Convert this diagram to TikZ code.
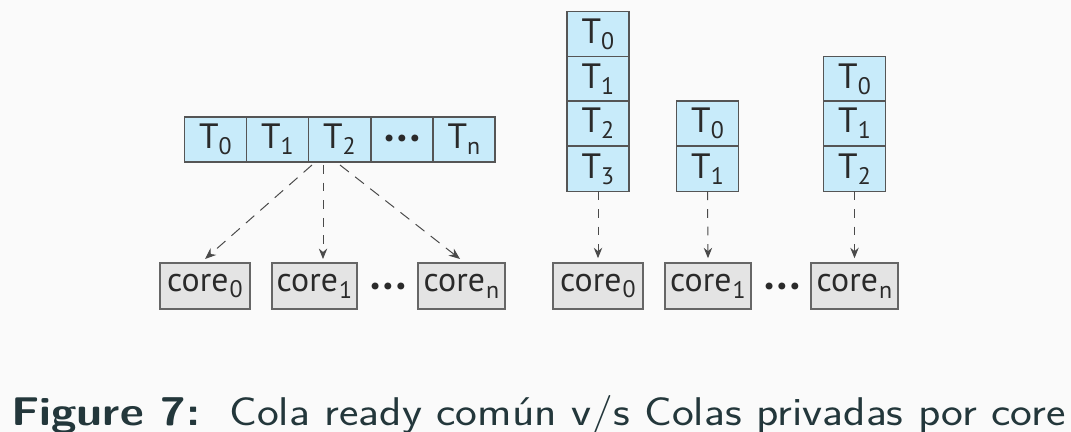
\documentclass[tikz,border=0pt]{standalone}
\usepackage{fontspec}
\usepackage{graphicx}
\newfontfamily\cellfont{PT Sans}
\usetikzlibrary{arrows.meta}
\definecolor{bgc}{HTML}{FAFAFA}
\definecolor{cellfill}{HTML}{C8EBFA}
\definecolor{cellline}{HTML}{555555}
\definecolor{corefill}{HTML}{E4E4E4}
\definecolor{coreline}{HTML}{666666}
\definecolor{capc}{HTML}{23373B}
\definecolor{txt}{HTML}{2A2A2A}
\newcommand{\Tsub}[1]{T\kern0em\raisebox{-0.35ex}{\fontsize{17}{17}\selectfont #1}}
\newcommand{\coresub}[1]{core\kern0.04em\raisebox{-0.4ex}{\fontsize{17}{17}\selectfont #1}}
\tikzset{
  cell/.style={draw=cellline, fill=cellfill, line width=0.9pt, inner sep=0pt, outer sep=0pt,
    minimum width=1.55cm, minimum height=1.12cm, font=\cellfont\fontsize{25}{25}\selectfont, text=txt},
  corebox/.style={draw=coreline, fill=corefill, line width=0.9pt, inner sep=0pt, outer sep=0pt,
    minimum width=2.2cm, minimum height=1.15cm, font=\cellfont\fontsize{24}{24}\selectfont, text=txt},
  dots/.style={inner sep=0pt, font=\cellfont\bfseries\fontsize{16}{16}\selectfont, text=txt},
  arr/.style={draw=txt!85, line width=0.7pt, dash pattern=on 2.8mm off 2mm,
    -{Stealth[length=2.8mm,width=2.2mm]}},
  arrv/.style={draw=txt!85, line width=0.7pt, dash pattern=on 2.2mm off 2.2mm,
    -{Stealth[length=2.6mm,width=2.1mm]}}
}
\begin{document}
\begin{tikzpicture}[x=0.025cm, y=-0.025cm]
\fill[bgc] (0,0) rectangle (1071,432);
\useasboundingbox (0,0) rectangle (1071,432);
% left shared queue
\node[cell] (L0) at (215.5,139.5) {\Tsub{0}};
\node[cell] (L1) at (277.5,139.5) {\Tsub{1}};
\node[cell] (L2) at (339.5,139.5) {\Tsub{2}};
\node[cell] (L3) at (402,139.5) {};
\node[dots] (L3d) at (402,140) {•\kern0.12em•\kern0.12em•};
\node[cell] (L4) at (464,139.5) {\Tsub{n}};
% left cores
\node[corebox, minimum width=2.25cm] (C0) at (205,286) {\coresub{0}};
\node[corebox, minimum width=2.12cm] (C1) at (314.5,286) {\coresub{1}};
\node[corebox, minimum width=2.18cm] (Cn) at (461.5,286) {\coresub{n}};
\node[dots] (Cd) at (388,288) {•\kern0.12em•\kern0.12em•};
\coordinate (sL) at (312,165);
\coordinate (sM) at (323,165);
\coordinate (sR) at (340,165);
\coordinate (eL) at (205,259);
\coordinate (eM) at (323,259);
\coordinate (eR) at (460,259);
\draw[arr] (sL) -- (eL);
\draw[arrv] (sM) -- (eM);
\draw[arr] (sR) -- (eR);
% right private queues
\node[cell] (A0) at (598,34) {\Tsub{0}};
\node[cell] (A1) at (598,79) {\Tsub{1}};
\node[cell] (A2) at (598,123.5) {\Tsub{2}};
\node[cell] (A3) at (598,169) {\Tsub{3}};
\node[cell] (B0) at (707.5,123.5) {\Tsub{0}};
\node[cell] (B1) at (707.5,169) {\Tsub{1}};
\node[cell] (D0) at (854.5,79) {\Tsub{0}};
\node[cell] (D1) at (854.5,123.5) {\Tsub{1}};
\node[cell] (D2) at (854.5,169) {\Tsub{2}};
\node[corebox, minimum width=2.25cm] (R0) at (598,286) {\coresub{0}};
\node[corebox, minimum width=2.15cm] (R1) at (708,286) {\coresub{1}};
\node[corebox, minimum width=2.18cm] (Rn) at (854.5,286) {\coresub{n}};
\node[dots] (Rd) at (782,288) {•\kern0.12em•\kern0.12em•};
\draw[arrv] (A3.south) -- ([yshift=0.12cm]R0.north);
\draw[arrv] (B1.south) -- ([yshift=0.12cm]R1.north);
\draw[arrv] (D2.south) -- ([yshift=0.12cm]Rn.north);
% caption
\node[anchor=base west, inner sep=0pt, text=capc, font=\sffamily\fontsize{28.5}{30}\selectfont] (cap) at (11,425)
  {\resizebox{26.35cm}{\height}{\textbf{Figure 7:}\ \ Cola ready común v/s Colas privadas por core}};
\end{tikzpicture}
\end{document}
